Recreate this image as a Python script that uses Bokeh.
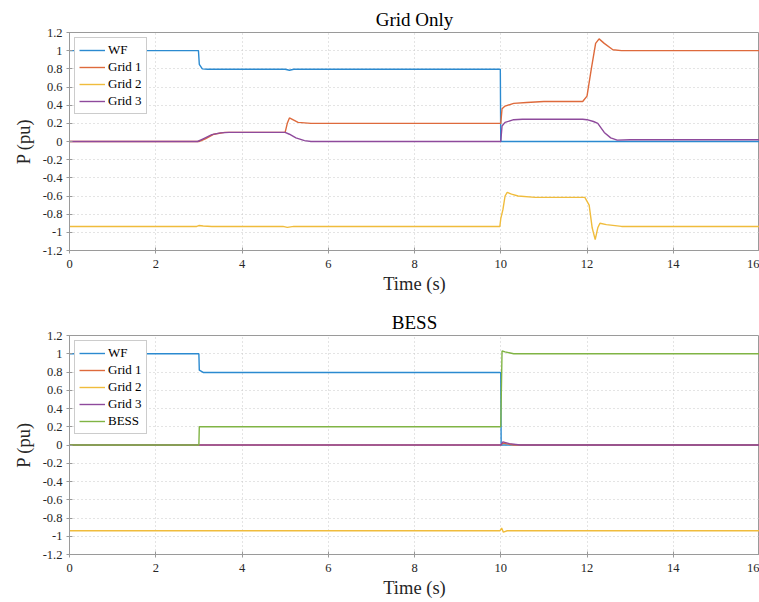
from bokeh.plotting import figure
from bokeh.layouts import column
from bokeh.models import Range1d, FixedTicker, CustomJSTickFormatter, Legend, LegendItem
from bokeh.embed import file_html
from bokeh.resources import INLINE

# ---------------- data ----------------
x_ticks = [0, 2, 4, 6, 8, 10, 12, 14, 16]
y_ticks = [-1.2, -1.0, -0.8, -0.6, -0.4, -0.2, 0.0, 0.2, 0.4, 0.6, 0.8, 1.0, 1.2]

# Top panel: Grid Only
g_wf_t = [0, 2.99, 3.01, 3.08, 3.2, 5.0, 5.1, 5.2, 5.4, 9.99, 10.0, 16]
g_wf_v = [1, 1, 0.85, 0.80, 0.795, 0.795, 0.785, 0.795, 0.795, 0.795, 0, 0]

g_g1_t = [0, 3.0, 3.15, 3.35, 3.6, 5.0, 5.05, 5.1, 5.3, 5.6, 10.0, 10.03, 10.1, 10.3,
          10.6, 11.0, 11.9, 12.0, 12.1, 12.2, 12.28, 12.4, 12.6, 12.8, 16]
g_g1_v = [0, 0, 0.03, 0.08, 0.1, 0.1, 0.2, 0.26, 0.21, 0.2, 0.2, 0.36, 0.39, 0.42,
          0.43, 0.44, 0.44, 0.5, 0.8, 1.08, 1.13, 1.08, 1.01, 1.0, 1.0]

g_g2_t = [0, 2.95, 3.0, 3.1, 3.3, 4.95, 5.05, 5.2, 9.98, 10.0, 10.05, 10.1, 10.15,
          10.25, 10.4, 10.8, 11.95, 12.05, 12.12, 12.19, 12.25, 12.3, 12.45, 12.8, 16]
g_g2_v = [-0.935, -0.935, -0.925, -0.93, -0.935, -0.935, -0.945, -0.935, -0.935,
          -0.85, -0.75, -0.6, -0.56, -0.58, -0.6, -0.615, -0.615, -0.7, -0.95, -1.08,
          -0.95, -0.9, -0.915, -0.935, -0.935]

g_g3_t = [0, 2.97, 3.1, 3.3, 3.5, 3.7, 5.0, 5.1, 5.25, 5.45, 5.6, 10.0, 10.03, 10.1,
          10.3, 10.5, 11.9, 12.0, 12.15, 12.25, 12.4, 12.55, 12.7, 13.0, 16]
g_g3_v = [0, 0, 0.03, 0.075, 0.095, 0.1, 0.1, 0.08, 0.04, 0.01, 0, 0, 0.17, 0.21,
          0.24, 0.245, 0.245, 0.24, 0.22, 0.2, 0.1, 0.04, 0.015, 0.02, 0.02]

# Bottom panel: BESS
b_wf_t = [0, 3.0, 3.01, 3.1, 10.0, 10.01, 16]
b_wf_v = [1, 1, 0.82, 0.795, 0.795, 0, 0]

b_g1_t = [0, 10.0, 10.05, 10.3, 16]
b_g1_v = [0, 0, 0.02, 0, 0]

b_g2_t = [0, 9.98, 10.02, 10.06, 10.15, 16]
b_g2_v = [-0.94, -0.94, -0.91, -0.955, -0.94, -0.94]

b_g3_t = [0, 10.0, 10.05, 10.2, 10.45, 16]
b_g3_v = [0, 0, 0.035, 0.015, 0, 0]

b_bess_t = [0, 3.0, 3.01, 10.0, 10.03, 10.1, 10.3, 16]
b_bess_v = [0, 0, 0.2, 0.2, 1.03, 1.02, 1.0, 1.0]

COLORS = {"WF": "#2b8ad0", "Grid 1": "#de6a3c", "Grid 2": "#f0bc3c",
          "Grid 3": "#8e4a9c", "BESS": "#80b444"}

FONT = "Liberation Serif"


def make_fig(title, height, top, bottom, series):
    p = figure(width=759, height=height, output_backend="svg", toolbar_location=None,
               x_range=Range1d(0, 16), y_range=Range1d(-1.2, 1.2),
               min_border_left=69, min_border_right=0,
               min_border_top=top, min_border_bottom=bottom)
    p.title.text = title
    p.title.align = "center"
    p.title.text_font = FONT
    p.title.text_font_size = "19px"
    p.title.text_font_style = "normal"
    p.title.text_color = "#000000"
    p.title.standoff = 6

    p.xaxis.ticker = FixedTicker(ticks=x_ticks)
    p.yaxis.ticker = FixedTicker(ticks=y_ticks)
    p.yaxis.formatter = CustomJSTickFormatter(code="return (Math.round(tick*10)/10).toString();")
    p.xaxis.formatter = CustomJSTickFormatter(code="return Math.round(tick).toString();")
    for ax in (p.xaxis, p.yaxis):
        ax.major_label_text_font = FONT
        ax.major_label_text_font_size = "12.5px"
        ax.major_label_text_color = "#262626"
        ax.axis_label_text_font = FONT
        ax.axis_label_text_font_size = "18.5px"
        ax.axis_label_text_font_style = "normal"
        ax.axis_label_text_color = "#262626"
        ax.axis_line_color = "#9a9a9a"
        ax.major_tick_line_color = "#9a9a9a"
        ax.major_tick_in = 3
        ax.major_tick_out = 3
        ax.minor_tick_line_color = None
    p.xaxis.axis_label = "Time (s)"
    p.yaxis.axis_label = "P (pu)"
    p.xaxis.major_label_standoff = 6
    p.yaxis.major_label_standoff = 4
    p.xaxis.axis_label_standoff = 3
    p.yaxis.axis_label_standoff = 6

    p.grid.grid_line_color = "#c8c8c8"
    p.grid.grid_line_dash = "1 3"
    p.grid.grid_line_width = 1
    p.outline_line_color = "#9a9a9a"
    p.background_fill_color = "white"
    p.border_fill_color = "white"

    items = []
    for name, t, v in series:
        r = p.line(t, v, line_color=COLORS[name], line_width=1.4)
        items.append(LegendItem(label=name, renderers=[r]))
    leg = Legend(items=items, location="top_left")
    leg.label_text_font = FONT
    leg.label_text_font_size = "13px"
    leg.label_text_color = "#000000"
    leg.glyph_width = 26
    leg.glyph_height = 14
    leg.label_height = 14
    leg.spacing = 1
    leg.padding = 4
    leg.margin = 5
    leg.label_standoff = 3
    leg.border_line_color = "#9a9a9a"
    leg.background_fill_alpha = 1.0
    p.add_layout(leg)
    return p


p1 = make_fig("Grid Only", 300, 32, 50, [
    ("WF", g_wf_t, g_wf_v),
    ("Grid 1", g_g1_t, g_g1_v),
    ("Grid 2", g_g2_t, g_g2_v),
    ("Grid 3", g_g3_t, g_g3_v),
])
p2 = make_fig("BESS", 302, 35, 48, [
    ("WF", b_wf_t, b_wf_v),
    ("Grid 1", b_g1_t, b_g1_v),
    ("Grid 2", b_g2_t, b_g2_v),
    ("Grid 3", b_g3_t, b_g3_v),
    ("BESS", b_bess_t, b_bess_v),
])

layout = column(p1, p2, spacing=0)
open("out.html", "w").write(file_html(layout, INLINE))
